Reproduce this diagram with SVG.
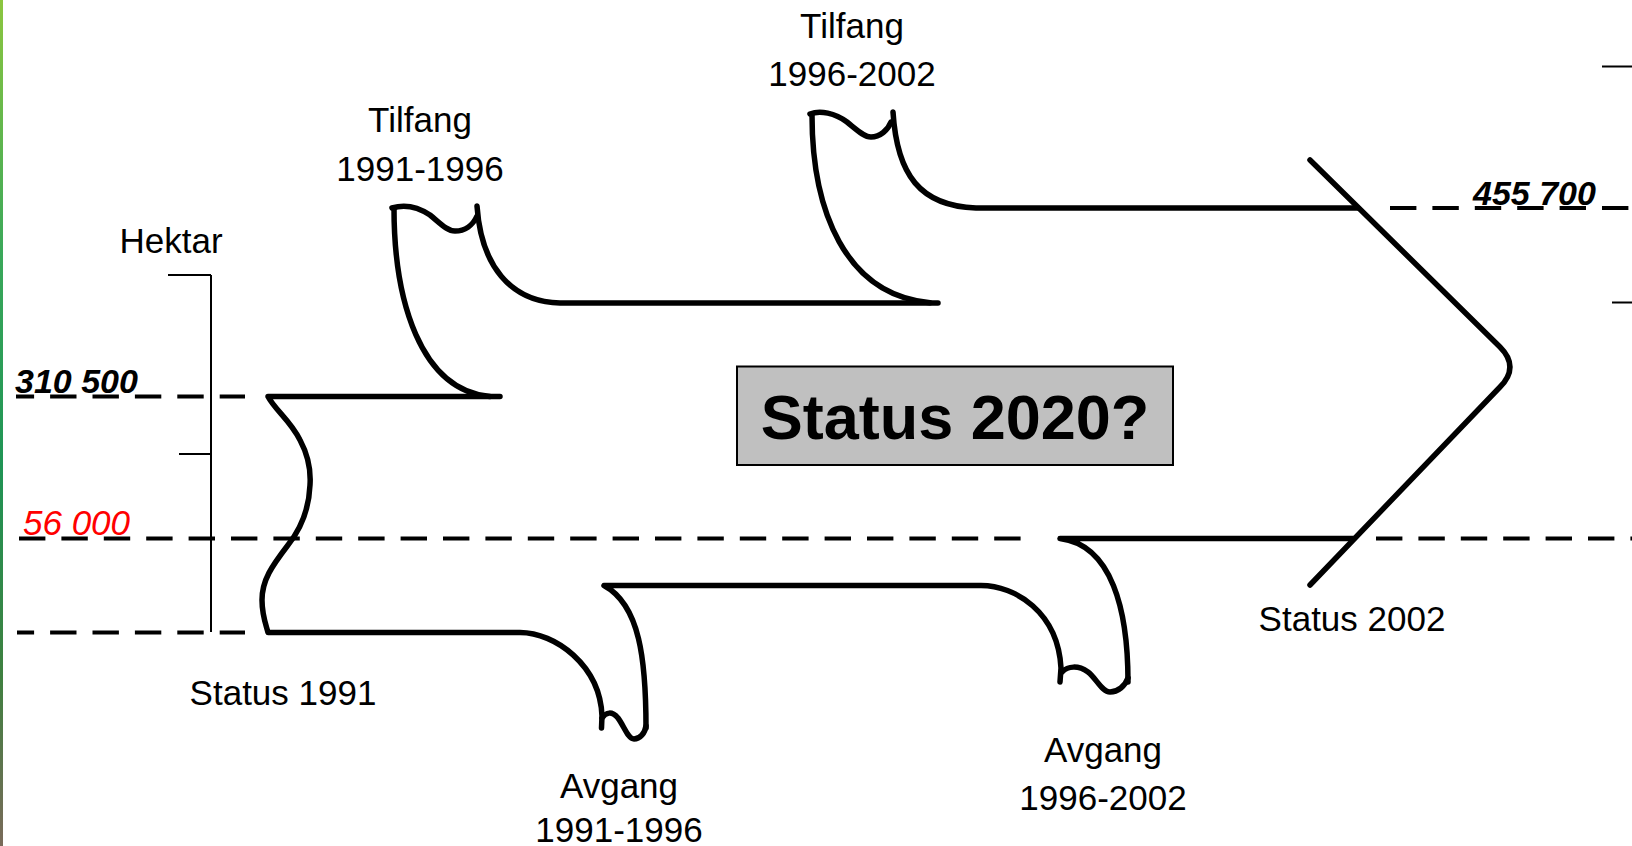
<svg xmlns="http://www.w3.org/2000/svg" width="1632" height="846" viewBox="0 0 1632 846">
  <defs>
    <linearGradient id="edge" x1="0" y1="0" x2="0" y2="1">
      <stop offset="0" stop-color="#8cc63f"/>
      <stop offset="0.3" stop-color="#3aa85a"/>
      <stop offset="0.55" stop-color="#1f9455"/>
      <stop offset="0.8" stop-color="#3f8040"/>
      <stop offset="1" stop-color="#7a6a5a"/>
    </linearGradient>
  </defs>
  <style>
    .fish { fill: none; stroke: #000; stroke-width: 5.5; stroke-linecap: round; stroke-linejoin: round; }
    .dash { fill: none; stroke: #000; stroke-width: 4; stroke-dasharray: 26.4 16; }
    .thin { fill: none; stroke: #000; stroke-width: 2; }
    .lbl { font-family: "Liberation Sans", Arial, sans-serif; font-size: 35px; fill: #000; }
    .num { font-family: "Liberation Sans", Arial, sans-serif; font-size: 34px; font-weight: bold; font-style: italic; fill: #000; }
    .red { font-family: "Liberation Sans", Arial, sans-serif; font-size: 35px; font-style: italic; fill: #ff0000; }
  </style>
  <rect width="1632" height="846" fill="#fff"/>
  <rect x="0" y="0" width="3" height="846" fill="url(#edge)"/>

  <g id="connectors">
    <line class="dash" x1="16" y1="396.5" x2="245" y2="396.5" stroke-dashoffset="8.3"/>
    <line class="dash" x1="17" y1="632.5" x2="245" y2="632.5" stroke-dashoffset="9.3"/>
    <line class="dash" x1="19" y1="538.5" x2="1021" y2="538.5"/>
    <line class="dash" x1="1376" y1="538.5" x2="1632" y2="538.5"/>
    <line class="dash" x1="1390" y1="208" x2="1632" y2="208"/>
  </g>

  <g id="scale">
    <line class="thin" x1="168" y1="275" x2="211" y2="275"/>
    <line class="thin" x1="211" y1="275" x2="211" y2="632"/>
    <line class="thin" x1="179" y1="454" x2="211" y2="454"/>
    <line class="thin" x1="1602" y1="66.5" x2="1632" y2="66.5"/>
    <line class="thin" x1="1612" y1="302.5" x2="1632" y2="302.5"/>
  </g>

  <g id="fish">
    <path class="fish" d="M500,396.5 L268,396.5 C275,410 290,420 300,440 C308,455 311,470 310,485 C309,510 300,530 288,545 C272,566 262,580 262,600 C262,615 266,625 268,632.5 L520,632.5 C555,632.5 600,665 602,716 L601.5,728"/>
    <path class="fish" d="M394,208 C394,300 420,390 490,396.5"/>
    <path class="fish" d="M392,208 C405,204 418,207 430,215 C440,223 447,231 455,231 C465,231 473,225 477,216"/>
    <path class="fish" d="M477,206 C481,265 510,302 560,303 L938,303"/>
    <path class="fish" d="M810,114 C820,110 835,113 847,122 C857,130 864,137 871,137 C880,137 888,130 891,122"/>
    <path class="fish" d="M812,115 C812,210 845,295 930,302.7"/>
    <path class="fish" d="M893,112 C897,175 920,206 976,208 L1358,208"/>
    <path class="fish" d="M1310,160 L1500,347 Q1520,367 1500,387 L1310,585"/>
    <path class="fish" d="M602,718 C606,712 612,711 618,718 C624,726 628,739 634,739 C640,739 645,733 646,726"/>
    <path class="fish" d="M646,728 C646,660 640,605 604,585.5 L981,585.5 C1015,585.5 1058,612 1061,668 L1060,682"/>
    <path class="fish" d="M1062,672 C1068,666 1078,665 1088,672 C1096,678 1102,692 1110,692 C1118,692 1125,686 1128,678"/>
    <path class="fish" d="M1128,682 C1128,610 1112,545 1060,538.5 L1353,538.5"/>
  </g>

  <g id="status2020">
    <rect x="737" y="366.5" width="436" height="98.5" fill="#c0c0c0" stroke="#000" stroke-width="2"/>
    <text x="955" y="439" text-anchor="middle" font-family="Liberation Sans, Arial, sans-serif" font-size="63" font-weight="bold">Status 2020?</text>
  </g>

  <g id="tilfang1">
    <text class="lbl" x="420" y="132" text-anchor="middle">Tilfang</text>
    <text class="lbl" x="420" y="181" text-anchor="middle">1991-1996</text>
  </g>
  <g id="tilfang2">
    <text class="lbl" x="852" y="38" text-anchor="middle">Tilfang</text>
    <text class="lbl" x="852" y="86" text-anchor="middle">1996-2002</text>
  </g>
  <g id="avgang1">
    <text class="lbl" x="619" y="798" text-anchor="middle">Avgang</text>
    <text class="lbl" x="619" y="842" text-anchor="middle">1991-1996</text>
  </g>
  <g id="avgang2">
    <text class="lbl" x="1103" y="762" text-anchor="middle">Avgang</text>
    <text class="lbl" x="1103" y="810" text-anchor="middle">1996-2002</text>
  </g>
  <g id="status1991">
    <text class="lbl" x="283" y="705" text-anchor="middle">Status 1991</text>
  </g>
  <g id="status2002">
    <text class="lbl" x="1352" y="631" text-anchor="middle">Status 2002</text>
  </g>
  <g id="hektar">
    <text class="lbl" x="171" y="253" text-anchor="middle">Hektar</text>
  </g>
  <g id="values">
    <text class="num" x="15" y="393">310 500</text>
    <text class="red" x="23" y="535">56 000</text>
    <text class="num" x="1473" y="205" font-size="35">455 700</text>
  </g>
</svg>
